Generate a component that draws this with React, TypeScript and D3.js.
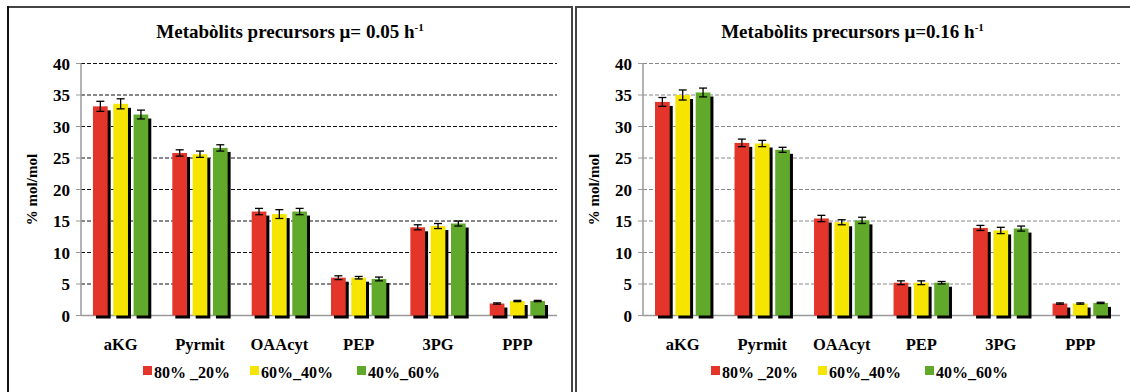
import React from 'react';
import * as d3 from 'd3';

const categories = ['aKG', 'Pyrmit', 'OAAcyt', 'PEP', '3PG', 'PPP'];
const seriesNames = ['80% _20%', '60%_40%', '40%_60%'];
const seriesColors = ['#E3352A', '#F5E500', '#60A92B'];
const yTicks = [0, 5, 10, 15, 20, 25, 30, 35, 40];

// mu = 0.05 h-1
const lowMu80 = [33.2, 25.8, 16.5, 6.0, 14.0, 1.9];
const lowMu60 = [33.6, 25.6, 16.1, 6.0, 14.2, 2.3];
const lowMu40 = [31.9, 26.6, 16.5, 5.8, 14.6, 2.3];
const lowMuErr80 = [0.8, 0.5, 0.5, 0.3, 0.4, 0.1];
const lowMuErr60 = [0.8, 0.5, 0.7, 0.2, 0.4, 0.1];
const lowMuErr40 = [0.7, 0.5, 0.5, 0.3, 0.4, 0.1];

// mu = 0.16 h-1
const highMu80 = [33.9, 27.4, 15.4, 5.2, 13.9, 1.9];
const highMu60 = [35.0, 27.3, 14.8, 5.2, 13.5, 1.9];
const highMu40 = [35.4, 26.3, 15.1, 5.2, 13.8, 2.0];
const highMuErr80 = [0.7, 0.6, 0.5, 0.3, 0.4, 0.1];
const highMuErr60 = [0.8, 0.5, 0.4, 0.3, 0.5, 0.1];
const highMuErr40 = [0.7, 0.4, 0.5, 0.2, 0.4, 0.1];

const textStyle = { fontFamily: "'Liberation Serif', 'DejaVu Serif', serif", fontWeight: 'bold' as const };

type PanelProps = {
  title: string;
  values: number[][];
  errors: number[][];
  axisX: number;
  gridRight: number;
  gridColor: string;
  legendX: number;
};

const Panel = ({ title, values, errors, axisX, gridRight, gridColor, legendX }: PanelProps) => {
  const top = 63.5;
  const bottom = 315.5;

  const y = d3.scaleLinear().domain([0, 40]).range([bottom, top]);
  const x0 = d3
    .scaleBand()
    .domain(categories)
    .range([axisX, gridRight])
    .paddingInner(0.303)
    .paddingOuter(0.151);
  const x1 = d3
    .scaleBand()
    .domain(seriesNames)
    .range([0, x0.bandwidth()])
    .paddingInner(0.276);

  const titleX = (axisX + gridRight) / 2 - 29;

  return (
    <g>
      <text x={titleX} y={38} textAnchor="middle" style={{ ...textStyle, fontSize: 19 }}>
        {title}
        <tspan style={{ fontSize: 11 }} dy={-7}>-1</tspan>
      </text>

      {/* grid */}
      {yTicks.filter((t) => t > 0).map((t) => (
        <line
          key={t}
          x1={axisX}
          x2={gridRight}
          y1={y(t)}
          y2={y(t)}
          stroke={gridColor}
          strokeWidth={1}
          strokeDasharray="4,2"
        />
      ))}

      {/* y axis */}
      <line x1={axisX} x2={axisX} y1={top} y2={bottom} stroke="#9a9a9a" strokeWidth={1.5} />
      <line x1={axisX} x2={gridRight} y1={bottom} y2={bottom} stroke="#9a9a9a" strokeWidth={1.5} />
      {yTicks.map((t) => (
        <g key={t}>
          <line x1={axisX - 5} x2={axisX} y1={y(t)} y2={y(t)} stroke="#9a9a9a" strokeWidth={1} />
          <text x={axisX - 11} y={y(t) + 6} textAnchor="end" style={{ ...textStyle, fontSize: 17 }}>
            {t}
          </text>
        </g>
      ))}
      <text
        transform={`translate(${axisX - 44},${(top + bottom) / 2}) rotate(-90)`}
        textAnchor="middle"
        style={{ ...textStyle, fontSize: 15 }}
      >
        % mol/mol
      </text>

      {/* bars */}
      {categories.map((c, i) => (
        <g key={c} transform={`translate(${x0(c)},0)`}>
          {seriesNames.map((s, j) => {
            const v = values[j][i];
            const bx = x1(s) as number;
            const bw = x1.bandwidth();
            return (
              <g key={s}>
                <rect
                  x={bx + 3}
                  y={y(v) + 4}
                  width={bw}
                  height={bottom - y(v) - 1}
                  fill="#000"
                />
                <rect x={bx} y={y(v)} width={bw} height={bottom - y(v)} fill={seriesColors[j]} />
              </g>
            );
          })}
          {seriesNames.map((s, j) => {
            const v = values[j][i];
            const e = errors[j][i];
            const cx = (x1(s) as number) + x1.bandwidth() / 2;
            return (
              <g key={s} stroke="#000" strokeWidth={1.3}>
                <line x1={cx} x2={cx} y1={y(v + e)} y2={y(v - e)} />
                <line x1={cx - 4} x2={cx + 4} y1={y(v + e)} y2={y(v + e)} />
                <line x1={cx - 4} x2={cx + 4} y1={y(v - e)} y2={y(v - e)} />
              </g>
            );
          })}
          <text
            x={x0.bandwidth() / 2}
            y={350}
            textAnchor="middle"
            style={{ ...textStyle, fontSize: 16.5 }}
          >
            {c}
          </text>
        </g>
      ))}

      {/* legend */}
      {seriesNames.map((s, j) => {
        const lx = legendX + j * 107;
        return (
          <g key={s}>
            <rect x={lx} y={366} width={9} height={9} fill={seriesColors[j]} />
            <text x={lx + 11} y={378} style={{ ...textStyle, fontSize: 16 }}>
              {s}
            </text>
          </g>
        );
      })}
    </g>
  );
};

const App = () => {
  return (
    <svg
      width={1130}
      height={392}
      style={{ position: 'absolute', left: 0, top: 0, background: '#fff' }}
    >
      <rect width={1130} height={392} fill="#fff" />

      {/* panel frames */}
      <line x1={7} x2={573} y1={7} y2={7} stroke="#444" strokeWidth={2} />
      <line x1={8} x2={8} y1={6} y2={392} stroke="#111" strokeWidth={2} />
      <line x1={572} x2={572} y1={6} y2={392} stroke="#444" strokeWidth={2} />
      <line x1={576} x2={1130} y1={7} y2={7} stroke="#444" strokeWidth={2} />
      <line x1={576} x2={576} y1={6} y2={392} stroke="#444" strokeWidth={2} />

      <Panel
        title="Metabòlits precursors μ= 0.05 h"
        values={[lowMu80, lowMu60, lowMu40]}
        errors={[lowMuErr80, lowMuErr60, lowMuErr40]}
        axisX={81}
        gridRight={557}
        gridColor="#111"
        legendX={143}
      />
      <Panel
        title="Metabòlits precursors μ=0.16 h"
        values={[highMu80, highMu60, highMu40]}
        errors={[highMuErr80, highMuErr60, highMuErr40]}
        axisX={643}
        gridRight={1120}
        gridColor="#888"
        legendX={711}
      />
    </svg>
  );
};

export default App;
